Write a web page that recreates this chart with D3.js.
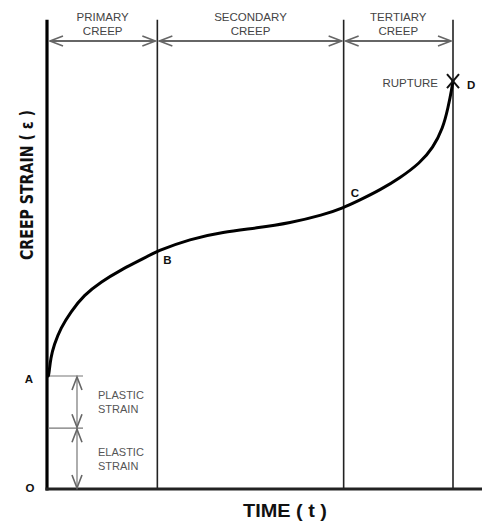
<!DOCTYPE html>
<style>
  body { margin: 0; background: #fff; }
  svg { font-family: Arial, "Liberation Sans", sans-serif; }
</style>
<svg width="482" height="523"></svg>
<script src="https://cdn.jsdelivr.net/npm/d3@7"></script>
<script>

  // creep curve, time (t) vs strain (e), arbitrary units
  var curveT = [0, 0.1, 0.25, 0.67, 1.48, 3.14, 5.6, 8.89, 13.01, 17.95, 22.89, 26.91,
    35.06, 43.21, 51.6, 59.75, 67.9, 72.84,
    77.04, 81.98, 86.91, 91.85, 95.06, 97.53, 98.77, 99.75, 100, 100];
  var curveE = [27.49, 27.49, 28.22, 31.87, 35.04, 39.17, 43.07, 47.2, 50.36, 53.28, 55.72, 57.91,
    60.83, 62.53, 63.5, 64.72, 66.67, 68.37,
    70.32, 72.75, 75.67, 79.32, 82.97, 87.83, 92.7, 97.57, 99.51, 99.51];

  var phaseBounds = [0, 27, 73, 100];
  var phaseNames = [["PRIMARY", "CREEP"], ["SECONDARY", "CREEP"], ["TERTIARY", "CREEP"]];

  var pointNames = ["B", "C", "D"];
  var pointT = [27, 73, 100];
  var pointE = [57.9, 68.4, 99.0];

  var strainLevels = [0, 14.8, 27.5];   // O, elastic/plastic split, A
  var strainNames = [["ELASTIC", "STRAIN"], ["PLASTIC", "STRAIN"]];

  var svg = d3.select("svg");

  var x = d3.scaleLinear().domain([0, 100]).range([48, 453]),
    y = d3.scaleLinear().domain([0, 100]).range([489, 78]);

  var xMax = 107.5, yMax = 114.2;

  // phase divider lines
  svg.selectAll(".div")
    .data(phaseBounds.slice(1))
    .enter().append("line")
    .attr("x1", function (d) { return x(d); })
    .attr("x2", function (d) { return x(d); })
    .attr("y1", y(yMax))
    .attr("y2", y(0))
    .attr("stroke", "#222")
    .attr("stroke-width", 1.6);

  // axes
  svg.append("line")
    .attr("x1", x(0) - 1).attr("x2", x(0) - 1)
    .attr("y1", y(yMax)).attr("y2", y(0) + 1.5)
    .attr("stroke", "#000").attr("stroke-width", 3.2);
  svg.append("line")
    .attr("x1", x(0) - 2.5).attr("x2", x(xMax))
    .attr("y1", y(0)).attr("y2", y(0))
    .attr("stroke", "#222").attr("stroke-width", 3);

  // open arrow heads
  function arrowHead(g, px, py, dx, dy) {
    var len = 13, half = 5;
    var nx = -dy, ny = dx;
    g.append("path")
      .attr("d", "M" + (px - dx * len + nx * half) + "," + (py - dy * len + ny * half) +
        "L" + px + "," + py +
        "L" + (px - dx * len - nx * half) + "," + (py - dy * len - ny * half))
      .attr("fill", "none")
      .attr("stroke", "#666")
      .attr("stroke-width", 1.6);
  }

  var arrowY = 41;
  var phases = svg.append("g");
  phaseNames.forEach(function (names, i) {
    var a = x(phaseBounds[i]) + 2, b = x(phaseBounds[i + 1]) - 2;
    phases.append("line")
      .attr("x1", a).attr("x2", b)
      .attr("y1", arrowY).attr("y2", arrowY)
      .attr("stroke", "#666").attr("stroke-width", 1.8);
    arrowHead(phases, a, arrowY, -1, 0);
    arrowHead(phases, b, arrowY, 1, 0);
    var cx = (x(phaseBounds[i]) + x(phaseBounds[i + 1])) / 2;
    phases.append("text")
      .attr("x", cx).attr("y", 21)
      .attr("text-anchor", "middle")
      .attr("font-size", 11.5)
      .attr("fill", "#444")
      .text(names[0]);
    phases.append("text")
      .attr("x", cx).attr("y", 35)
      .attr("text-anchor", "middle")
      .attr("font-size", 11.5)
      .attr("fill", "#444")
      .text(names[1]);
  });

  // elastic / plastic strain markers
  var sg = svg.append("g");
  strainLevels.slice(1).forEach(function (d) {
    sg.append("line")
      .attr("x1", x(0)).attr("x2", 83)
      .attr("y1", y(d)).attr("y2", y(d))
      .attr("stroke", "#777").attr("stroke-width", 1.2);
  });
  strainNames.forEach(function (names, i) {
    var top = y(strainLevels[i + 1]) + 1, bot = y(strainLevels[i]) - 1;
    sg.append("line")
      .attr("x1", 77).attr("x2", 77)
      .attr("y1", top).attr("y2", bot)
      .attr("stroke", "#777").attr("stroke-width", 1.2);
    arrowHead(sg, 77, top, 0, -1);
    arrowHead(sg, 77, bot, 0, 1);
    var cy = (top + bot) / 2;
    sg.append("text")
      .attr("x", 98).attr("y", cy - 3)
      .attr("font-size", 11)
      .attr("fill", "#555")
      .text(names[0]);
    sg.append("text")
      .attr("x", 98).attr("y", cy + 11)
      .attr("font-size", 11)
      .attr("fill", "#555")
      .text(names[1]);
  });

  // creep curve, smoothed through the read-off points
  var line = d3.line()
    .x(function (d) { return x(d[0]); })
    .y(function (d) { return y(d[1]); })
    .curve(d3.curveBasis);

  svg.append("path")
    .datum(curveT.map(function (t, i) { return [t, curveE[i]]; }))
    .attr("d", line)
    .attr("fill", "none")
    .attr("stroke", "#000")
    .attr("stroke-width", 3);

  // rupture cross
  var rx = x(100), ry = y(99.0) - 1;
  svg.append("path")
    .attr("d", "M" + (rx - 6) + "," + (ry - 7) + "L" + (rx + 6) + "," + (ry + 7) +
      "M" + (rx + 6) + "," + (ry - 7) + "L" + (rx - 6) + "," + (ry + 7))
    .attr("stroke", "#111").attr("stroke-width", 2);

  svg.append("text")
    .attr("x", 438).attr("y", 87)
    .attr("text-anchor", "end")
    .attr("font-size", 11.5)
    .attr("fill", "#444")
    .text("RUPTURE");

  // point labels
  var labOff = [[6, 13], [7, -11], [14, 7]];
  svg.selectAll(".pt")
    .data(pointNames)
    .enter().append("text")
    .attr("x", function (d, i) { return x(pointT[i]) + labOff[i][0]; })
    .attr("y", function (d, i) { return y(pointE[i]) + labOff[i][1]; })
    .attr("font-size", 11.5)
    .attr("font-weight", "bold")
    .attr("fill", "#111")
    .text(function (d) { return d; });

  svg.append("text")
    .attr("x", 29).attr("y", y(strainLevels[2]) + 7)
    .attr("text-anchor", "middle")
    .attr("font-size", 11.5).attr("font-weight", "bold").attr("fill", "#111")
    .text("A");
  svg.append("text")
    .attr("x", 30).attr("y", y(0) + 3)
    .attr("text-anchor", "middle")
    .attr("font-size", 11.5).attr("font-weight", "bold").attr("fill", "#111")
    .text("O");

  // axis titles
  svg.append("text")
    .attr("transform", "translate(33,185) rotate(-90)")
    .attr("text-anchor", "middle")
    .attr("font-family", "'Liberation Sans Narrow', 'DejaVu Sans Condensed', Arial, sans-serif")
    .attr("font-size", 18)
    .attr("font-weight", "bold")
    .attr("fill", "#111")
    .attr("textLength", 150)
    .attr("lengthAdjust", "spacingAndGlyphs")
    .text("CREEP STRAIN ( \u03b5 )");

  svg.append("text")
    .attr("x", 285).attr("y", 517)
    .attr("text-anchor", "middle")
    .attr("font-size", 19)
    .attr("font-weight", "bold")
    .attr("fill", "#111")
    .attr("textLength", 84)
    .attr("lengthAdjust", "spacingAndGlyphs")
    .text("TIME ( t )");

</script>
